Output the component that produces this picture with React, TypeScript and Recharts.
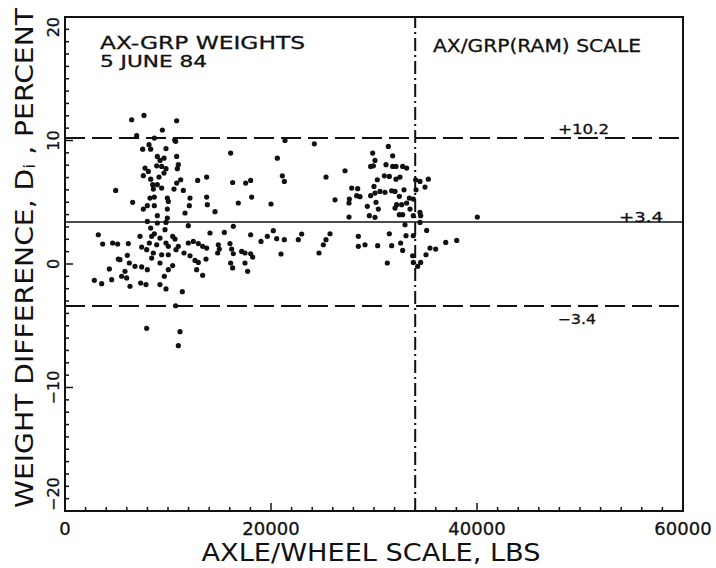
import React from "react";
import {
  ScatterChart,
  Scatter,
  XAxis,
  YAxis,
  ReferenceLine,
  ReferenceArea,
} from "recharts";

// Axle/wheel scale weight (lbs)
const axleWheelLbs: number[] = [
  6472, 7670, 10840, 9449, 6957, 8673, 10744, 10650, 8155, 7540, 8317, 9805,
  8964, 9222, 8900, 9611, 9384, 10842, 11004, 10907, 7767, 8090, 7605, 9805,
  9611, 9126, 8317, 8964, 8576, 9384, 8512, 11229, 10842, 10583, 11488, 12880,
  13753, 4919, 6569, 8252, 8673, 9935, 10031, 7605, 7993, 8673, 9935, 12135,
  12071, 11650, 13753, 13818, 14562, 16277, 16083, 16827, 17539, 18025, 18122,
  8964, 9935, 7993, 8964, 9805, 11973, 16342, 3236, 3657, 4628, 5113, 6148,
  7281, 8317, 8673, 8414, 9222, 9708, 10453, 10680, 8187, 8900, 9805, 10031,
  7443, 7929, 8576, 9384, 10031, 11004, 10777, 11553, 11973, 12459, 12944,
  13365, 13753, 14077, 15469, 14886, 14983, 14821, 16018, 16180, 16342, 16083,
  16277, 17151, 17475, 18025, 18025, 17475, 17733, 12135, 12620, 12944, 12782,
  13365, 13689, 6051, 5339, 5178, 6245, 5825, 5987, 5501, 6310, 4304, 4531,
  3560, 2848, 6795, 7443, 7993, 7346, 7863, 9222, 9805, 9643, 10031, 10453,
  9222, 8414, 11391, 7929, 11165, 11004, 10744, 21360, 24207, 20616, 21101,
  21295, 20001, 25340, 27184, 26214, 27605, 27573, 27573, 27832, 28414, 28317,
  28640, 29870, 30097, 29676, 29940, 31391, 31812, 31165, 31812, 32136, 32783,
  33171, 30323, 30000, 31003, 31488, 32136, 32524, 29676, 30097, 30582, 31068,
  31715, 32039, 32459, 32912, 33430, 33818, 34077, 34045, 34465, 34951, 35275,
  29353, 30194, 30420, 29547, 30097, 32200, 32686, 32039, 33171, 33495, 32459,
  32780, 33818, 34465, 34530, 33009, 34465, 40031, 19030, 19645, 20227, 20551,
  21295, 20972, 18221, 22654, 22978, 24660, 25081, 25340, 25729, 28479, 28479,
  29126, 30356, 31488, 31715, 32588, 32783, 33106, 33818, 31294, 33754, 33818,
  34239, 34530, 35113, 35048, 35436, 35987, 36961, 38029,
];

// Weight difference D_i (percent)
const weightDiffPct: number[] = [
  11.68, 12.03, 11.6, 10.85, 10.39, 10.2, 9.93, 10.05, 9.66, 9.3, 9.3, 9.35,
  8.71, 8.39, 7.95, 8.57, 7.9, 8.71, 8.04, 7.72, 7.77, 7.5, 7.15, 7.72, 7.36,
  7.04, 6.87, 6.42, 6.07, 6.15, 6.42, 6.82, 6.55, 6.07, 5.96, 6.77, 7.04, 5.96,
  4.99, 5.34, 5.42, 5.34, 5.07, 4.45, 4.72, 4.72, 4.45, 5.34, 4.72, 4.13, 5.42,
  4.8, 4.24, 6.6, 8.98, 4.94, 6.55, 6.77, 5.42, 3.91, 3.72, 3.45, 3.32, 3.37,
  3.1, 3.05, 2.37, 1.62, 1.7, 1.62, 1.65, 2.24, 2.91, 2.45, 2.24, 2.1, 2.78,
  2.24, 2.02, 1.7, 1.56, 1.7, 1.43, 1.37, 1.16, 0.89, 0.75, 0.75, 1.43, 1.16,
  0.89, 1.7, 1.83, 1.65, 1.43, 1.29, 2.51, 2.56, 1.56, 1.21, 0.89, 1.65, 1.21,
  0.83, 0.08, -0.32, 1.02, 0.89, 0.83, 2.37, 0.08, -0.59, 0.67, 0.29, 0.13,
  -0.46, -0.92, 0.4, 0.7, 0.35, 0.4, 0.08, -0.59, -1.13, -0.99, -1.8, -0.4,
  -1.27, -1.59, -1.32, -0.19, -0.24, -0.46, -1.54, -1.67, -1.67, -2.02, -0.99,
  -0.46, -0.13, 0.08, 0.48, -2.24, -5.21, -5.48, -6.61, -3.38, 10.0, 9.73,
  8.57, 7.14, 6.69, 4.86, 7.04, 7.55, 5.2, 5.26, 4.94, 3.8, 6.15, 6.1, 5.53,
  5.45, 8.98, 8.39, 7.9, 7.95, 9.52, 8.76, 8.04, 7.9, 7.9, 7.9, 7.77, 6.82,
  6.28, 7.14, 7.09, 6.87, 7.04, 5.53, 5.74, 5.88, 5.8, 5.93, 5.88, 5.48, 6.01,
  5.34, 5.26, 6.01, 6.82, 6.69, 6.23, 6.87, 4.67, 4.99, 4.45, 3.91, 3.78, 4.8,
  4.8, 4.53, 4.94, 4.45, 3.99, 3.99, 3.91, 4.18, 3.91, 3.18, 3.37, 3.8, 1.83,
  2.24, 2.7, 2.05, 1.97, 0.81, 0.56, 1.97, 2.43, 0.89, 1.56, 1.97, 2.45, 2.24,
  1.43, 1.56, 1.48, 2.45, 1.48, 1.7, 1.1, 2.29, 2.29, 0.08, 0.67, 0.13, -0.19,
  0.13, 2.72, 0.75, 1.29, 1.21, 1.75, 1.91,
];

const xTickLabels: number[] = [0, 20000, 40000, 60000];
const yTickLabels: number[] = [-20, -10, 0, 10, 20];
const limitLines: number[] = [10.2, 3.4, -3.4];
const limitLabels: string[] = ["+10.2", "+3.4", "\u22123.4"];
const scaleBoundary = 34000;

const xMinorTicks: number[] = [];
for (let v = 0; v <= 60000; v += 2000) xMinorTicks.push(v);
const yMinorTicks: number[] = [];
for (let v = -20; v <= 20; v += 1) yMinorTicks.push(v);

const data = axleWheelLbs.map((x, i) => ({ x, y: weightDiffPct[i] }));

const FONT = "'DejaVu Sans', 'Liberation Sans', sans-serif";
const INK = "#111";

const XTick = (props: any) => {
  const { x, y, payload } = props;
  const v = payload.value as number;
  const major = xTickLabels.includes(v);
  return (
    <g>
      <line x1={x} x2={x} y1={y} y2={y - (major ? 8 : 4)} stroke={INK} strokeWidth={1.5} />
      {major && (
        <text
          x={x}
          y={y + 17}
          textAnchor="middle"
          dominantBaseline="central"
          fontSize={18}
          fontFamily={FONT}
          fill={INK}
          stroke={INK}
          strokeWidth={0.3}
        >
          {v}
        </text>
      )}
    </g>
  );
};

const YTick = (props: any) => {
  const { x, y, payload } = props;
  const v = payload.value as number;
  const major = yTickLabels.includes(v);
  let anchor: "middle" | "start" | "end" = "middle";
  if (v === 20) anchor = "end";
  if (v === -20) anchor = "start";
  const lx = x - 12;
  return (
    <g>
      <line x1={x} x2={x + (major ? 8 : 4)} y1={y} y2={y} stroke={INK} strokeWidth={1.5} />
      {major && (
        <text
          x={lx}
          y={y}
          transform={`rotate(-90 ${lx} ${y})`}
          textAnchor={anchor}
          dominantBaseline="central"
          fontSize={16}
          fontFamily={FONT}
          fill={INK}
          stroke={INK}
          strokeWidth={0.3}
        >
          {v < 0 ? `\u2212${Math.abs(v)}` : v}
        </text>
      )}
    </g>
  );
};

const Dot = (props: any) => {
  const { cx, cy } = props;
  if (cx == null || cy == null) return null;
  return <circle cx={cx} cy={cy} r={2.6} fill={INK} />;
};

const annotations = [
  { text: "AX-GRP WEIGHTS", x: 100, y: 42, size: 18, len: 205 },
  { text: "5 JUNE 84", x: 100, y: 62, size: 15, len: 107 },
  { text: "AX/GRP(RAM) SCALE", x: 433, y: 46, size: 17, len: 208 },
  { text: limitLabels[0], x: 558, y: 129, size: 14, len: 51 },
  { text: limitLabels[1], x: 619, y: 217, size: 14, len: 44 },
  { text: limitLabels[2], x: 558, y: 319, size: 14, len: 38 },
];

export default function App() {
  return (
    <div style={{ position: "absolute", left: 0, top: 0, width: 716, height: 568, background: "#fff" }}>
      <ScatterChart
        width={716}
        height={568}
        margin={{ top: 17, right: 33, bottom: 0, left: 0 }}
      >
        <XAxis
          type="number"
          dataKey="x"
          domain={[0, 60000]}
          ticks={xMinorTicks}
          interval={0}
          tickSize={0}
          tickMargin={0}
          tickLine={false}
          axisLine={false}
          height={57}
          tick={<XTick />}
          allowDataOverflow
        />
        <YAxis
          type="number"
          dataKey="y"
          domain={[-20, 20]}
          ticks={yMinorTicks}
          interval={0}
          tickSize={0}
          tickMargin={0}
          tickLine={false}
          axisLine={false}
          width={65}
          tick={<YTick />}
          allowDataOverflow
        />
        <ReferenceArea
          x1={0}
          x2={60000}
          y1={-20}
          y2={20}
          fill="none"
          stroke={INK}
          strokeWidth={2}
          ifOverflow="visible"
        />
        <ReferenceLine y={limitLines[0]} stroke={INK} strokeWidth={2} strokeDasharray="20 7" />
        <ReferenceLine y={limitLines[1]} stroke={INK} strokeWidth={1.6} />
        <ReferenceLine y={limitLines[2]} stroke={INK} strokeWidth={2} strokeDasharray="20 7" />
        <ReferenceLine x={scaleBoundary} stroke={INK} strokeWidth={2} strokeDasharray="13 4 2 4" />
        <Scatter data={data} shape={<Dot />} isAnimationActive={false} />
      </ScatterChart>
      <svg
        width={716}
        height={568}
        style={{ position: "absolute", left: 0, top: 0, pointerEvents: "none" }}
      >
        {annotations.map((a, i) => (
          <text
            key={i}
            x={a.x}
            y={a.y}
            dominantBaseline="central"
            fontSize={a.size}
            fontFamily={FONT}
            fill={INK}
            stroke={INK}
            strokeWidth={0.3}
            textLength={a.len}
            lengthAdjust="spacingAndGlyphs"
          >
            {a.text}
          </text>
        ))}
        <text
          x={371}
          y={553}
          textAnchor="middle"
          dominantBaseline="central"
          fontSize={24}
          fontFamily={FONT}
          fill={INK}
          textLength={339}
          lengthAdjust="spacingAndGlyphs"
        >
          AXLE/WHEEL SCALE, LBS
        </text>
        <text
          x={25}
          y={258}
          transform="rotate(-90 25 258)"
          textAnchor="middle"
          dominantBaseline="central"
          fontSize={24}
          fontFamily={FONT}
          fill={INK}
          textLength={500}
          lengthAdjust="spacingAndGlyphs"
        >
          WEIGHT DIFFERENCE, D
          <tspan fontSize={15} dy={5}>i</tspan>
          <tspan dy={-5}> , PERCENT</tspan>
        </text>
      </svg>
    </div>
  );
}
